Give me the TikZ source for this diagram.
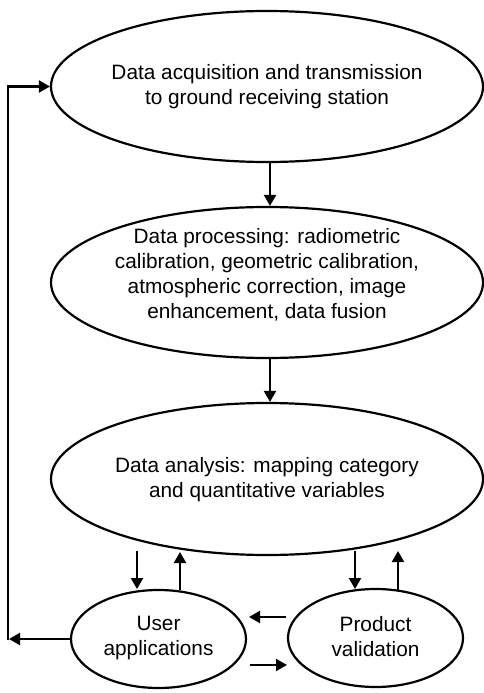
\documentclass[tikz,border=0pt]{standalone}
\usepackage{fontspec}
\setmainfont{Liberation Sans}
\usetikzlibrary{shapes.geometric,arrows.meta}
\begin{document}
\begin{tikzpicture}[x=1pt,y=-1pt,
  oval/.style={draw,line width=2.2pt,ellipse,inner sep=0pt},
  txt/.style={align=center,inner sep=0pt,font=\fontsize{20.8}{25}\selectfont},
  arr/.style={line width=2.2pt,-{Triangle[length=11pt,width=12pt]}}]
\useasboundingbox (0,0) rectangle (484,693);
\node[oval,minimum width=432,minimum height=151] (acq) at (267,86.5) {};
\node[txt] (acqT) at (267,86.5) {Data acquisition and transmission\\to ground receiving station};
\node[oval,minimum width=432,minimum height=151] (proc) at (267,282.5) {};
\node[txt] (procT) at (267,275) {Data processing: radiometric\\calibration, geometric calibration,\\atmospheric correction, image\\enhancement, data fusion};
\node[oval,minimum width=432,minimum height=152] (ana) at (267,479) {};
\node[txt] (anaT) at (267,480) {Data analysis: mapping category\\and quantitative variables};
\node[oval,minimum width=175,minimum height=98] (user) at (158.5,639) {};
\node[txt] (userT) at (158.5,638) {User\\applications};
\node[oval,minimum width=175,minimum height=98] (prod) at (375.5,638) {};
\node[txt] (prodT) at (375.5,637) {Product\\validation};
\draw[arr] ([xshift=3pt]acq.south) -- ([xshift=3pt]proc.north);
\draw[arr] ([xshift=3pt]proc.south) -- ([xshift=3pt]ana.north);
\coordinate (d1) at (137,551); \coordinate (d1e) at (137,589);
\coordinate (u1) at (180,590); \coordinate (u1e) at (180,552);
\coordinate (d2) at (355,551); \coordinate (d2e) at (355,589);
\coordinate (u2) at (398,590); \coordinate (u2e) at (398,551);
\draw[arr] (d1) -- (d1e);
\draw[arr] (u1) -- (u1e);
\draw[arr] (d2) -- (d2e);
\draw[arr] (u2) -- (u2e);
\coordinate (l1) at (286,617); \coordinate (l1e) at (249,617);
\coordinate (r1) at (250,665); \coordinate (r1e) at (287,665);
\draw[arr] (l1) -- (l1e);
\draw[arr] (r1) -- (r1e);
\coordinate (fbtip) at (9,639);
\coordinate (fb1) at (8,640.1); \coordinate (fb2) at (8,86.5);
\draw[arr] (user.west) -- (fbtip);
\draw[arr,line join=miter] (fb1) -- (fb2) -- (acq.west);
\end{tikzpicture}
\end{document}
